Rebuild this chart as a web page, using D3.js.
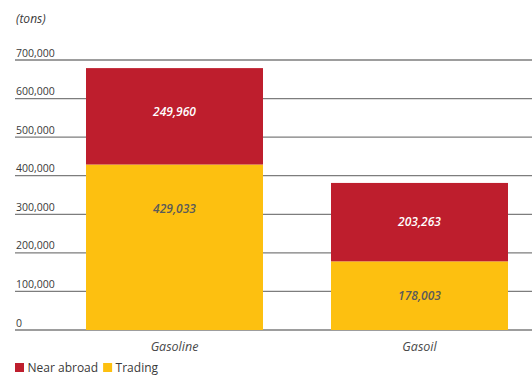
<!DOCTYPE html>
<html>
<head>
<meta charset="utf-8">
<script src="https://cdn.jsdelivr.net/npm/d3@7"></script>
<style>
  html, body { margin: 0; padding: 0; background: #fff; }
  svg { display: block; font-family: "Open Sans", "Noto Sans", sans-serif; }
</style>
</head>
<body>
<svg id="chart" width="532" height="375"></svg>
<script>
// Product volumes, tons
const categories = ["Gasoline", "Gasoil"];
const seriesNames = ["Trading", "Near abroad"];
const tradingValues = [429033, 178003];
const nearAbroadValues = [249960, 203263];
const tickValues = [0, 100000, 200000, 300000, 400000, 500000, 600000, 700000];
const unitLabel = "(tons)";

const colors = { "Trading": "#fdc010", "Near abroad": "#be1e2d" };
const labelColors = { "Trading": "#5a5a5a", "Near abroad": "#ffffff" };

const svg = d3.select("#chart");
const width = 532;

const rows = categories.map((c, i) => ({
  category: c,
  "Trading": tradingValues[i],
  "Near abroad": nearAbroadValues[i]
}));
const stacked = d3.stack().keys(seriesNames)(rows);

const y = d3.scaleLinear()
  .domain([0, 700000])
  .range([330, 60]);

const x = d3.scaleBand()
  .domain(categories)
  .range([86, 508])
  .paddingInner(0.2776)
  .paddingOuter(0);

// Gridlines with labels sitting above each line
const fmt = d3.format(",");
const grid = svg.append("g");
grid.selectAll("line")
  .data(tickValues)
  .join("line")
  .attr("x1", 15)
  .attr("x2", width)
  .attr("y1", d => y(d))
  .attr("y2", d => y(d))
  .attr("stroke", "#7d7d7d")
  .attr("stroke-width", 1.3);
grid.selectAll("text")
  .data(tickValues)
  .join("text")
  .attr("x", 16)
  .attr("y", d => y(d) - 3.5)
  .attr("font-size", 10.5)
  .attr("fill", "#3a3a3a")
  .text(d => fmt(d));

// Stacked bars
const layers = svg.append("g").selectAll("g")
  .data(stacked)
  .join("g")
  .attr("fill", s => colors[s.key]);
layers.selectAll("rect")
  .data(s => s.map(d => ({ key: s.key, d })))
  .join("rect")
  .attr("x", p => x(p.d.data.category))
  .attr("width", x.bandwidth())
  .attr("y", p => y(p.d[1]))
  .attr("height", p => y(p.d[0]) - y(p.d[1]));

// Value labels inside each segment
const segLabels = svg.append("g");
stacked.forEach(s => {
  s.forEach(d => {
    const top = y(d[1]);
    const h = y(d[0]) - top;
    const cy = top + Math.min(h / 2, 44);
    segLabels.append("text")
      .attr("x", x(d.data.category) + x.bandwidth() / 2)
      .attr("y", cy)
      .attr("dy", "0.35em")
      .attr("text-anchor", "middle")
      .attr("font-size", 12)
      .attr("font-style", "italic")
      .attr("font-weight", 600)
      .attr("fill", labelColors[s.key])
      .text(fmt(d.data[s.key]));
  });
});

// Category labels
svg.append("g").selectAll("text")
  .data(categories)
  .join("text")
  .attr("x", d => x(d) + x.bandwidth() / 2)
  .attr("y", 351)
  .attr("text-anchor", "middle")
  .attr("font-size", 12.5)
  .attr("font-style", "italic")
  .attr("fill", "#4a4a4a")
  .text(d => d);

// Unit caption
svg.append("text")
  .attr("x", 16)
  .attr("y", 23)
  .attr("font-size", 12)
  .attr("font-style", "italic")
  .attr("fill", "#3a3a3a")
  .text(unitLabel);

// Legend
const legendItems = ["Near abroad", "Trading"];
const legend = svg.append("g").attr("transform", "translate(15,363)");
let lx = 0;
legendItems.forEach(name => {
  const g = legend.append("g").attr("transform", `translate(${lx},0)`);
  g.append("rect").attr("width", 9).attr("height", 9).attr("fill", colors[name]);
  const t = g.append("text")
    .attr("x", 12.5)
    .attr("y", 8.5)
    .attr("font-size", 12)
    .attr("fill", "#3a3a3a")
    .text(name);
  lx += 12.5 + t.node().getComputedTextLength() + 5;
});
</script>
</body>
</html>
